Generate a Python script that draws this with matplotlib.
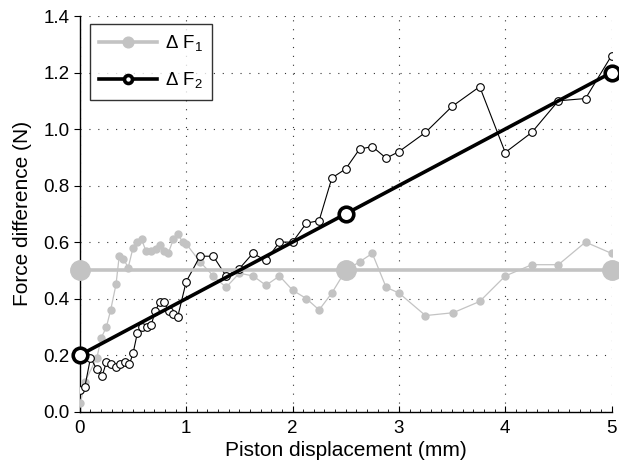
import matplotlib.pyplot as plt
from matplotlib.ticker import MultipleLocator

plt.rcParams['font.family'] = ['Liberation Sans', 'DejaVu Sans']
plt.rcParams['mathtext.fontset'] = 'custom'
plt.rcParams['mathtext.rm'] = 'Liberation Sans'
plt.rcParams['mathtext.it'] = 'Liberation Sans'

# medidas de la diferencia de fuerza 1 (gris)
x_f1 = [0.006, 0.047, 0.16, 0.20, 0.25, 0.29, 0.34, 0.37, 0.41, 0.455, 0.50, 0.54,
        0.58, 0.62, 0.67, 0.715, 0.75, 0.79, 0.83, 0.88, 0.92, 0.967, 1.0, 1.13,
        1.255, 1.375, 1.50, 1.63, 1.75, 1.877, 2.0, 2.13, 2.25, 2.37, 2.50, 2.63,
        2.75, 2.88, 3.0, 3.25, 3.51, 3.76, 4.0, 4.25, 4.5, 4.755, 5.0]
f1 = [0.03, 0.106, 0.19, 0.26, 0.30, 0.36, 0.45, 0.55, 0.54, 0.51, 0.58, 0.60,
      0.61, 0.57, 0.57, 0.576, 0.59, 0.57, 0.56, 0.61, 0.63, 0.60, 0.594, 0.53,
      0.48, 0.44, 0.49, 0.48, 0.447, 0.48, 0.43, 0.40, 0.36, 0.42, 0.50, 0.53,
      0.56, 0.44, 0.42, 0.34, 0.35, 0.39, 0.48, 0.52, 0.52, 0.60, 0.56]

# medidas de la diferencia de fuerza 2 (negro)
x_f2 = [0.006, 0.047, 0.10, 0.16, 0.21, 0.25, 0.29, 0.34, 0.38, 0.42, 0.465, 0.50,
        0.54, 0.58, 0.63, 0.67, 0.71, 0.75, 0.79, 0.835, 0.88, 0.92, 1.0, 1.13,
        1.255, 1.375, 1.50, 1.626, 1.75, 1.877, 2.0, 2.13, 2.25, 2.37, 2.50, 2.63,
        2.75, 2.88, 3.0, 3.25, 3.5, 3.76, 4.0, 4.25, 4.5, 4.755, 5.0]
f2 = [0.077, 0.088, 0.19, 0.15, 0.126, 0.176, 0.167, 0.159, 0.167, 0.176, 0.167, 0.206,
      0.277, 0.298, 0.298, 0.306, 0.356, 0.388, 0.388, 0.356, 0.345, 0.335, 0.46, 0.55,
      0.55, 0.48, 0.506, 0.56, 0.535, 0.60, 0.60, 0.667, 0.676, 0.827, 0.859, 0.929,
      0.938, 0.897, 0.92, 0.988, 1.08, 1.15, 0.917, 0.988, 1.10, 1.108, 1.26]

# rectas ajustadas
x_fit = [0, 2.5, 5]
f1_fit = [0.5, 0.5, 0.5]
f2_fit = [0.2, 0.7, 1.2]

gris = '#c3c3c3'

fig = plt.figure(figsize=(6.19, 4.71), dpi=100)
ax = fig.add_axes([0.129, 0.126, 0.859, 0.84])

ax.plot(x_f1, f1, color=gris, lw=0.9, marker='o', ms=5, mfc=gris, mec=gris, zorder=3)
ax.plot(x_f2, f2, color='black', lw=0.8, marker='o', ms=5.5, mfc='white', mec='black',
        mew=0.8, zorder=4)
ax.plot(x_fit, f1_fit, color=gris, lw=2.6, marker='o', ms=14, mfc=gris, mec=gris,
        label=r'$\Delta\ \mathrm{F}_1$', zorder=5, clip_on=False)
ax.plot(x_fit, f2_fit, color='black', lw=2.6, marker='o', ms=10.5, mfc='white', mec='black',
        mew=2.6, label=r'$\Delta\ \mathrm{F}_2$', zorder=6, clip_on=False)

ax.set_xlim(0, 5)
ax.set_ylim(0, 1.4)
ax.xaxis.set_major_locator(MultipleLocator(1))
ax.xaxis.set_minor_locator(MultipleLocator(0.1))
ax.yaxis.set_major_locator(MultipleLocator(0.2))
ax.yaxis.set_major_formatter(plt.FormatStrFormatter('%.1f'))
ax.grid(True, which='major', color='#333333', linestyle=(0, (1, 7)), linewidth=0.8)
ax.set_axisbelow(True)
for s in ['top', 'right']:
    ax.spines[s].set_visible(False)
ax.spines['left'].set_linewidth(1.0)
ax.spines['bottom'].set_linewidth(1.0)
ax.tick_params(axis='y', direction='out', length=4, width=0.8, labelsize=13.5)
ax.tick_params(axis='x', which='major', direction='in', length=4, width=0.8,
               labelsize=13.5, pad=6)
ax.tick_params(axis='x', which='minor', direction='in', length=2, width=0.6)

ax.set_xlabel('Piston displacement (mm)', fontsize=15, labelpad=3)
ax.set_ylabel('Force difference (N)', fontsize=15, labelpad=8)

leg = ax.legend(loc='upper left', fontsize=13.5, markerscale=0.55, frameon=True, fancybox=False,
                edgecolor='black', handlelength=3.1, borderaxespad=0, labelspacing=0.9,
                borderpad=0.5, handletextpad=0.4, bbox_to_anchor=(0.019, 0.98))
leg.get_frame().set_linewidth(1.0)

plt.savefig('out.png', dpi=100)
